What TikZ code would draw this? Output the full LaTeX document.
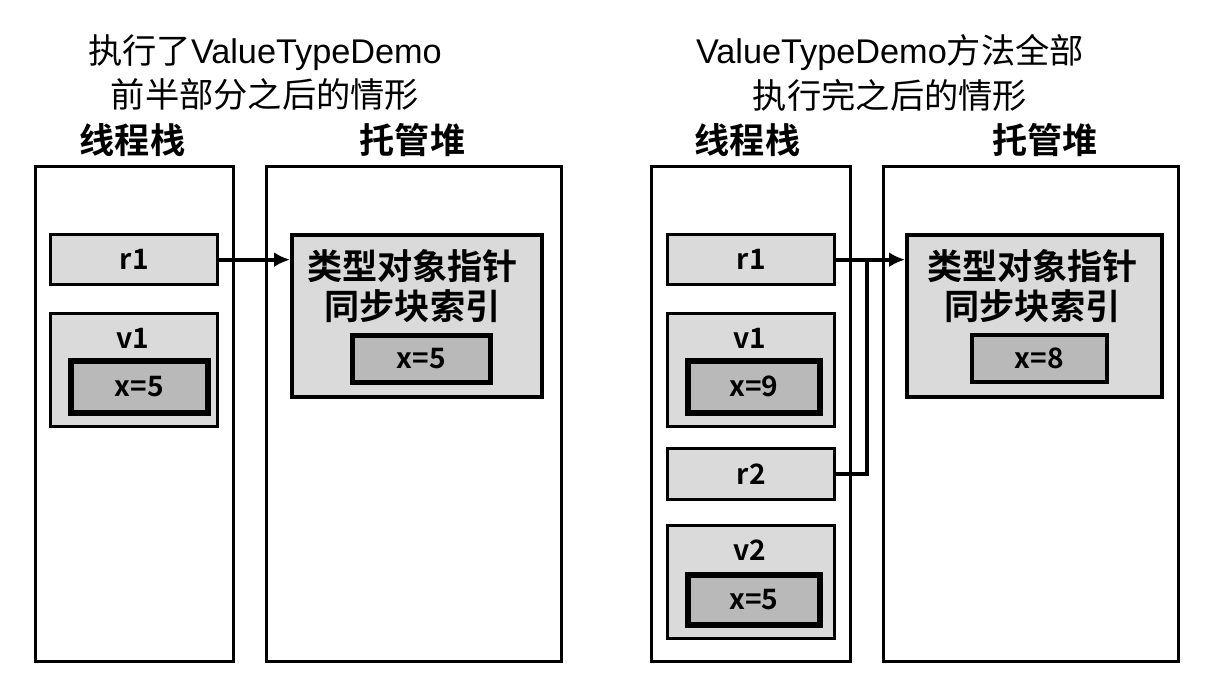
\documentclass[tikz,border=0pt]{standalone}
\usepackage{fontspec}
\setmainfont{Noto Sans CJK SC}[BoldFont={* Bold}]
\newfontfamily\latinfont{Liberation Sans}
\usetikzlibrary{arrows.meta}
\definecolor{slotgray}{RGB}{218,218,218}
\definecolor{valgray}{RGB}{185,185,185}

\begin{document}
\begin{tikzpicture}[area/.style = {draw, line width=1.6pt, fill=white, anchor=north west, minimum width=#1, minimum height=9.9cm, inner sep=0pt},
		slot/.style = {draw, line width=1.9pt, fill=slotgray, anchor=north west, minimum width=3.34cm, inner sep=0pt, font=\bfseries\fontsize{16}{18}\selectfont},
		val/.style = {draw, line width=3.2pt, fill=valgray, anchor=north west, inner sep=0pt, font=\bfseries\fontsize{16}{18}\selectfont},
		obj/.style = {draw, line width=2.2pt, fill=slotgray, anchor=north west, minimum height=3.24cm, inner sep=0pt},
		head/.style = {font=\bfseries\fontsize{20}{24}\selectfont},
		title/.style = {align=center, font=\fontsize{19.5}{25.5}\selectfont},
		ptr/.style = {line width=2.2pt, -{Latex[length=0.32cm,width=0.3cm]}}]
		\path[fill=white] (0,0) rectangle (24.36,-13.84);
		
		\node[title] (tL) at (5.3,-1.45) {执行了{\latinfont ValueTypeDemo}\\前半部分之后的情形};
		\node[title] (tR) at (17.8,-1.45) {{\latinfont ValueTypeDemo}方法全部\\执行完之后的情形};
		\node[head] (hsL) at (2.65,-2.8) {线程栈};
		\node[head] (hhL) at (8.25,-2.8) {托管堆};
		\node[head] (hsR) at (14.95,-2.8) {线程栈};
		\node[head] (hhR) at (20.9,-2.8) {托管堆};
		
		\node[area=3.96cm] (stackL) at (0.68,-3.3) {};
		\node[area=5.9cm] (heapL) at (5.3,-3.3) {};
		\node[slot, minimum height=1cm] (r1L) at (0.98,-4.66) {r1};
		\node[slot, minimum height=2.26cm] (v1L) at (0.98,-6.24) {};
		\node[font=\bfseries\fontsize{16}{18}\selectfont] (lv1L) at (2.65,-6.76) {v1};
		\node[val, minimum width=2.74cm, minimum height=1.04cm] (xv1L) at (1.36,-7.16) {x=5};
		\node[obj, minimum width=5cm] (objL) at (5.8,-4.66) {};
		\node[font=\bfseries\fontsize{20}{22.5}\selectfont, align=center] (mL) at (8.25,-5.72) {类型对象指针\\同步块索引};
		\node[val, line width=2.6pt, minimum width=2.76cm, minimum height=0.94cm] (xoL) at (7.0,-6.66) {x=5};
		
		\node[area=3.98cm] (stackR) at (13.0,-3.3) {};
		\node[area=5.9cm] (heapR) at (17.64,-3.3) {};
		\node[slot, minimum height=1cm] (r1R) at (13.32,-4.66) {r1};
		\node[slot, minimum height=2.26cm] (v1R) at (13.32,-6.24) {};
		\node[font=\bfseries\fontsize{16}{18}\selectfont] (lv1R) at (14.99,-6.76) {v1};
		\node[val, minimum width=2.64cm, minimum height=1.04cm] (xv1R) at (13.7,-7.16) {x=9};
		\node[slot, minimum height=1.02cm] (r2R) at (13.32,-8.94) {r2};
		\node[slot, minimum height=2.26cm] (v2R) at (13.32,-10.48) {};
		\node[font=\bfseries\fontsize{16}{18}\selectfont] (lv2R) at (14.99,-11.0) {v2};
		\node[val, minimum width=2.64cm, minimum height=1.0cm] (xv2R) at (13.7,-11.44) {x=5};
		\node[obj, minimum width=5.1cm] (objR) at (18.1,-4.66) {};
		\node[font=\bfseries\fontsize{20}{22.5}\selectfont, align=center] (mR) at (20.65,-5.72) {类型对象指针\\同步块索引};
		\node[val, line width=2.2pt, minimum width=2.7cm, minimum height=0.94cm] (xoR) at (19.4,-6.66) {x=8};
		
		\coordinate (jR) at (17.34,-5.16);
		\draw[ptr] (r1L.east) -- (r1L.east -| objL.west);
		\draw[ptr] (r1R.east) -- (r1R.east -| objR.west);
		\draw[line width=2.2pt] (r2R.east) -| (jR);
	\end{tikzpicture}
\end{document}
